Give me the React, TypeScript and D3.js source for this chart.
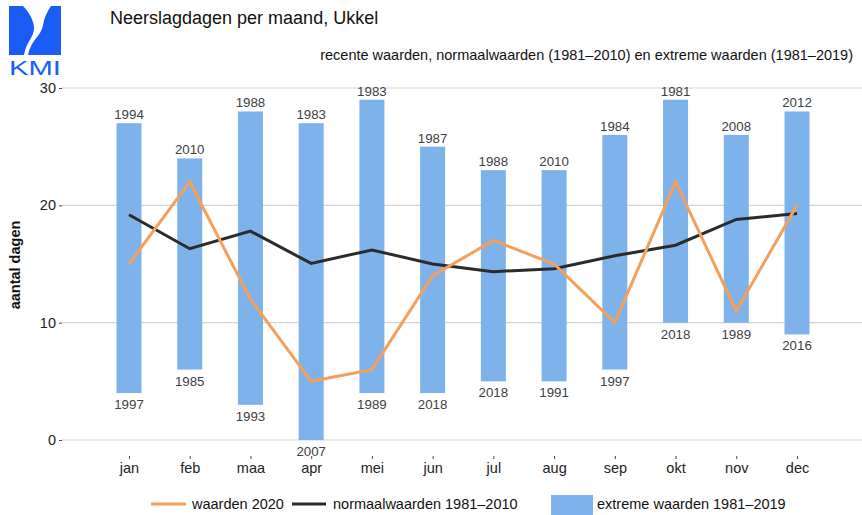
import React, { useRef, useEffect } from 'react';
import * as d3 from 'd3';

const months = ['jan', 'feb', 'maa', 'apr', 'mei', 'jun', 'jul', 'aug', 'sep', 'okt', 'nov', 'dec'];
const maxDays = [27, 24, 28, 27, 29, 25, 23, 23, 26, 29, 26, 28];
const maxYears = ['1994', '2010', '1988', '1983', '1983', '1987', '1988', '2010', '1984', '1981', '2008', '2012'];
const minDays = [4, 6, 3, 0, 4, 4, 5, 5, 6, 10, 10, 9];
const minYears = ['1997', '1985', '1993', '2007', '1989', '2018', '2018', '1991', '1997', '2018', '1989', '2016'];
const values2020 = [15, 22, 12, 5, 6, 14, 17, 15, 10, 22, 11, 20];
const normals = [19.2, 16.3, 17.8, 15.05, 16.2, 15.0, 14.35, 14.6, 15.7, 16.6, 18.8, 19.3];
const yTicks = [0, 10, 20, 30];

const FONT = '"Liberation Sans", Arial, sans-serif';
const BLUE = '#7db3ea';
const ORANGE = '#f5a05a';
const DARK = '#2b2b2b';

const App = () => {
  const svgRef = useRef<SVGSVGElement>(null);

  useEffect(() => {
    const svg = d3.select(svgRef.current);
    svg.selectAll('*').remove();
    const width = 862;
    const height = 515;
    const left = 62;
    const right = 862;

    const x = d3.scalePoint<string>().domain(months).range([129, 797]);
    const y = d3.scaleLinear().domain([0, 30]).range([440, 88]);
    const barW = 25;

    // grid
    svg.append('g')
      .selectAll('line')
      .data(yTicks)
      .join('line')
      .attr('x1', left).attr('x2', right)
      .attr('y1', d => y(d)).attr('y2', d => y(d))
      .attr('stroke', '#d4d4d4').attr('stroke-width', 1.2);

    // y axis
    const yAxis = svg.append('g')
      .attr('transform', `translate(${left},0)`)
      .call(d3.axisLeft(y).tickValues(yTicks).tickSize(3).tickPadding(3));
    yAxis.select('.domain').remove();
    yAxis.selectAll('line').attr('stroke', '#444');
    yAxis.selectAll('text').attr('font-size', 14.5).attr('font-family', FONT).attr('fill', '#222');

    // x axis
    const xAxis = svg.append('g')
      .attr('transform', 'translate(0,456)')
      .call(d3.axisBottom(x).tickSize(3).tickPadding(4));
    xAxis.select('.domain').remove();
    xAxis.selectAll('line').attr('stroke', '#444');
    xAxis.selectAll('text').attr('font-size', 14.5).attr('font-family', FONT).attr('fill', '#222');

    // bars
    svg.append('g')
      .selectAll('rect')
      .data(months)
      .join('rect')
      .attr('x', d => x(d)! - barW / 2)
      .attr('width', barW)
      .attr('y', (d, i) => y(maxDays[i]))
      .attr('height', (d, i) => y(minDays[i]) - y(maxDays[i]))
      .attr('fill', BLUE);

    // year labels
    const lbl = svg.append('g')
      .attr('font-family', FONT).attr('font-size', 13.3).attr('fill', '#404040')
      .attr('text-anchor', 'middle');
    lbl.selectAll('.top')
      .data(months)
      .join('text')
      .attr('class', 'top')
      .attr('x', d => x(d)!)
      .attr('y', (d, i) => y(maxDays[i]) - 4)
      .text((d, i) => maxYears[i]);
    lbl.selectAll('.bot')
      .data(months)
      .join('text')
      .attr('class', 'bot')
      .attr('x', d => x(d)!)
      .attr('y', (d, i) => y(minDays[i]) + 16)
      .text((d, i) => minYears[i]);

    const line = d3.line<number>()
      .x((d, i) => x(months[i])!)
      .y(d => y(d));

    svg.append('path')
      .datum(normals)
      .attr('d', line)
      .attr('fill', 'none')
      .attr('stroke', DARK)
      .attr('stroke-width', 3);

    svg.append('path')
      .datum(values2020)
      .attr('d', line)
      .attr('fill', 'none')
      .attr('stroke', ORANGE)
      .attr('stroke-width', 3);

    // titles
    svg.append('text')
      .attr('x', 110).attr('y', 24)
      .attr('font-family', FONT).attr('font-size', 18).attr('fill', '#111')
      .text('Neerslagdagen per maand, Ukkel');
    svg.append('text')
      .attr('x', 853).attr('y', 60)
      .attr('text-anchor', 'end')
      .attr('font-family', FONT).attr('font-size', 14.5).attr('fill', '#111')
      .text('recente waarden, normaalwaarden (1981\u20132010) en extreme waarden (1981\u20132019)');
    svg.append('text')
      .attr('transform', 'translate(20,265) rotate(-90)')
      .attr('text-anchor', 'middle')
      .attr('font-family', FONT).attr('font-size', 14.5).attr('font-weight', 'bold').attr('fill', '#111')
      .text('aantal dagen');

    // logo
    const logo = svg.append('g');
    logo.append('rect').attr('x', 9).attr('y', 6).attr('width', 52).attr('height', 49).attr('fill', '#1a5cf5');
    logo.append('path')
      .attr('d', 'M23,6 L51,6 C47,12 44,18 43,25 C42,31 38,36 34,41 C31,45 29,50 28,55 L24,55 C25,48 28,43 31,38 C34,33 35,28 33,22 C31,16 28,11 23,6 Z')
      .attr('fill', '#fff');
    logo.append('text')
      .attr('x', 35).attr('y', 75)
      .attr('text-anchor', 'middle')
      .attr('font-family', FONT).attr('font-size', 20).attr('fill', '#1a5cf5')
      .attr('textLength', 52).attr('lengthAdjust', 'spacingAndGlyphs')
      .text('KMI');

    // legend
    const lg = svg.append('g').attr('font-family', FONT).attr('font-size', 14.5).attr('fill', '#111');
    lg.append('line').attr('x1', 151).attr('x2', 186).attr('y1', 504).attr('y2', 504).attr('stroke', ORANGE).attr('stroke-width', 3);
    lg.append('text').attr('x', 192).attr('y', 509).text('waarden 2020');
    lg.append('line').attr('x1', 292).attr('x2', 326).attr('y1', 504).attr('y2', 504).attr('stroke', DARK).attr('stroke-width', 3);
    lg.append('text').attr('x', 333).attr('y', 509).text('normaalwaarden 1981\u20132010');
    lg.append('rect').attr('x', 551).attr('y', 495).attr('width', 42).attr('height', 20).attr('fill', BLUE);
    lg.append('text').attr('x', 597).attr('y', 509).text('extreme waarden 1981\u20132019');

    svg.attr('width', width).attr('height', height);
  }, []);

  return (
    <svg ref={svgRef} width={862} height={515} style={{ position: 'absolute', left: 0, top: 0 }} />
  );
};

export default App;
